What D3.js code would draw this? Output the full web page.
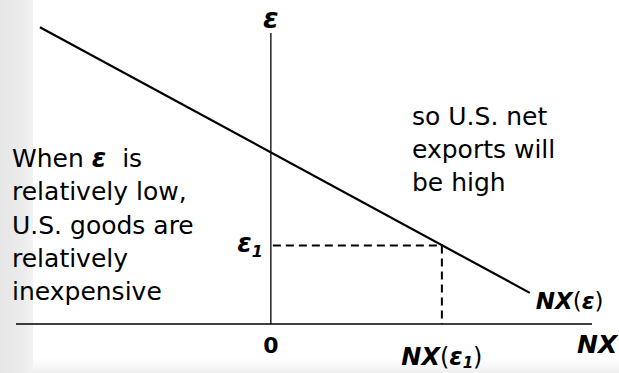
<!DOCTYPE html>
<html>
<head>
<meta charset="utf-8">
<script src="https://cdn.jsdelivr.net/npm/d3@7"></script>
<style>
  body { margin: 0; background: #fff; }
  svg { display: block; }
  .note { font-family: "DejaVu Sans", sans-serif; font-size: 25px; fill: #000; }
  .lab { font-family: "DejaVu Sans", sans-serif; font-weight: bold; font-style: italic; fill: #000; }
</style>
</head>
<body>
<div id="chart"></div>
<script>
// NX curve (net exports vs real exchange rate), arbitrary units
const curveNX = [-9.06, 10.16];
const curveEps = [10.2, 1.07];
const eps1 = 2.7;
const nx1 = 6.71;

const leftNote = ["When \u03b5 is", "relatively low,", "U.S. goods are", "relatively", "inexpensive"];
const rightNote = ["so U.S. net", "exports will", "be high"];

const width = 619, height = 373;

const svg = d3.select("#chart").append("svg")
  .attr("width", width)
  .attr("height", height);

// faint page edge on the left and bottom
const defs = svg.append("defs");
const gl = defs.append("linearGradient").attr("id", "edgeL").attr("x1", 0).attr("x2", 1).attr("y1", 0).attr("y2", 0);
gl.append("stop").attr("offset", "0%").attr("stop-color", "#e6e6e6");
gl.append("stop").attr("offset", "70%").attr("stop-color", "#ececec");
gl.append("stop").attr("offset", "100%").attr("stop-color", "#f2f2f2");
const gb = defs.append("linearGradient").attr("id", "edgeB").attr("x1", 0).attr("x2", 0).attr("y1", 0).attr("y2", 1);
gb.append("stop").attr("offset", "0%").attr("stop-color", "#ffffff");
gb.append("stop").attr("offset", "100%").attr("stop-color", "#f0f0f0");

svg.append("rect").attr("x", 0).attr("y", 358).attr("width", width).attr("height", 15).attr("fill", "url(#edgeB)");
svg.append("rect").attr("x", 0).attr("y", 0).attr("width", 33).attr("height", height).attr("fill", "url(#edgeL)");

const x = d3.scaleLinear().domain([-10, 12.6]).range([16, 592]);
const y = d3.scaleLinear().domain([0, 10]).range([324, 33]);

// axes
svg.append("line")
  .attr("x1", x(0)).attr("x2", x(0))
  .attr("y1", y(10)).attr("y2", y(0))
  .attr("stroke", "#000").attr("stroke-width", 1.3);
svg.append("line")
  .attr("x1", x(-10)).attr("x2", x(12.6))
  .attr("y1", y(0)).attr("y2", y(0))
  .attr("stroke", "#000").attr("stroke-width", 1.3);

// NX curve
const pts = curveNX.map((d, i) => [d, curveEps[i]]);
svg.append("path")
  .attr("d", d3.line().x(d => x(d[0])).y(d => y(d[1]))(pts))
  .attr("fill", "none")
  .attr("stroke", "#000")
  .attr("stroke-width", 2.2);

// dashed guides
svg.append("path")
  .attr("d", d3.line()([[x(0) + 2, y(eps1)], [x(nx1), y(eps1)], [x(nx1), y(0)]]))
  .attr("fill", "none")
  .attr("stroke", "#000")
  .attr("stroke-width", 2)
  .attr("stroke-dasharray", "8,5");

// axis labels
svg.append("text").attr("class", "lab")
  .attr("x", x(0)).attr("y", 28)
  .attr("text-anchor", "middle")
  .style("font-size", "28px")
  .text("\u03b5");

svg.append("text").attr("class", "lab")
  .attr("x", x(0)).attr("y", 353)
  .attr("text-anchor", "middle")
  .style("font-style", "normal")
  .style("font-size", "22px")
  .text("0");

const e1 = svg.append("text").attr("class", "lab")
  .attr("x", x(0) - 8).attr("y", y(eps1) + 7)
  .attr("text-anchor", "end")
  .style("font-size", "26px");
e1.append("tspan").text("\u03b5");
e1.append("tspan").attr("dy", 5).style("font-size", "16px").text("1");

svg.append("text").attr("class", "lab")
  .attr("x", 577).attr("y", 353)
  .style("font-size", "25px")
  .text("NX");

const nxe = svg.append("text").attr("class", "lab")
  .attr("x", x(curveNX[1]) + 6).attr("y", 309)
  .style("font-size", "23px");
nxe.append("tspan").text("NX");
nxe.append("tspan").style("font-weight", "normal").style("font-style", "normal").text("(");
nxe.append("tspan").text("\u03b5");
nxe.append("tspan").style("font-weight", "normal").style("font-style", "normal").text(")");

const nxe1 = svg.append("text").attr("class", "lab")
  .attr("x", x(nx1)).attr("y", 365)
  .attr("text-anchor", "middle")
  .style("font-size", "24px");
nxe1.append("tspan").text("NX");
nxe1.append("tspan").style("font-weight", "normal").style("font-style", "normal").text("(");
nxe1.append("tspan").text("\u03b5");
nxe1.append("tspan").attr("dy", 3).style("font-size", "15px").text("1");
nxe1.append("tspan").attr("dy", -3).style("font-weight", "normal").style("font-style", "normal").text(")");

// notes
const ln = svg.append("text").attr("class", "note");
leftNote.forEach((t, i) => {
  const ts = ln.append("tspan").attr("x", 12).attr("y", 167 + i * 33.3);
  if (t.indexOf("\u03b5") >= 0) {
    const parts = t.split("\u03b5");
    ts.append("tspan").text(parts[0]);
    ts.append("tspan")
      .style("font-weight", "bold").style("font-style", "italic").style("font-size", "26px").text("\u03b5");
    ts.append("tspan").text("\u00a0" + parts[1]);
  } else {
    ts.text(t);
  }
});

const rn = svg.append("text").attr("class", "note");
rightNote.forEach((t, i) => {
  rn.append("tspan").attr("x", 412).attr("y", 125 + i * 33).text(t);
});
</script>
</body>
</html>
